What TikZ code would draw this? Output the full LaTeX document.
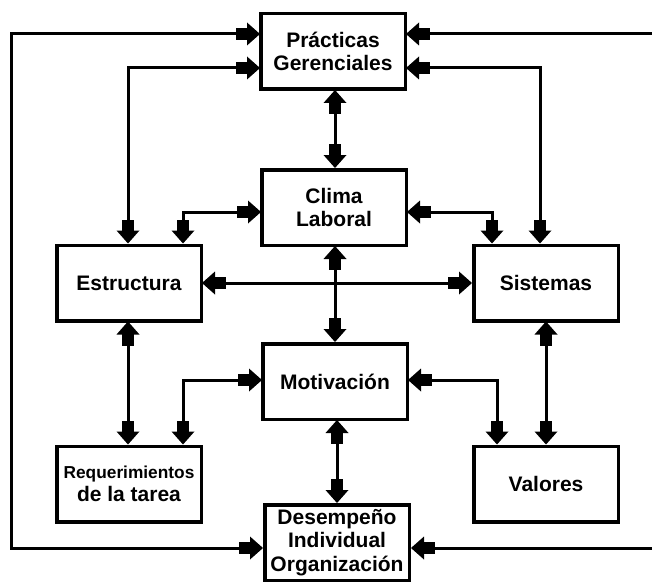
\documentclass[tikz,border=0pt]{standalone}
\usepackage{fontspec}
\setmainfont{Liberation Sans}
\usetikzlibrary{arrows.meta}
\begin{document}
\begin{tikzpicture}[x=1pt,y=-1pt,
  box/.style={draw, line width=3.5pt, minimum width=144.5pt, minimum height=75.5pt, inner sep=0pt, align=center,
    font=\fontsize{21}{23.5}\selectfont\bfseries},
  conn/.style={line width=3pt,
    {Triangle[width=23pt,length=13pt,line width=0pt,sep=-1pt] Rectangle[width=12pt,length=12pt,line width=0pt,sep=-1pt]}-{Rectangle[width=12pt,length=12pt,line width=0pt,sep=-1pt] Triangle[width=23pt,length=13pt,line width=0pt]}},
]
\path[use as bounding box, fill=white] (0,0) rectangle (652,583);
\clip (0,0) rectangle (652,583);

\node[box] (pg) at (333,51.5) {Prácticas\\Gerenciales};
\node[box] (cl) at (334,207.5) {Clima\\Laboral};
\node[box] (es) at (129,283) {Estructura};
\node[box] (si) at (546,283) {Sistemas};
\node[box] (mo) at (335,381.5) {Motivación};
\node[box] (rq) at (129,484) {{\fontsize{17.3}{24}\selectfont Requerimientos}\\de la tarea};
\node[box] (va) at (546,484) {Valores};
\node[box] (de) at (337,542.5) {\fontsize{21}{22.5}\selectfont Desempeño\\Individual\\Organización};

\coordinate (yA) at (0,34);
\coordinate (yB) at (0,68);
\coordinate (yC) at (0,212);
\coordinate (yD) at (0,380);
\coordinate (yE) at (0,548);
\coordinate (xL) at (11,0);
\coordinate (xE1) at (128,0);
\coordinate (xE2) at (183,0);
\coordinate (xS1) at (492,0);
\coordinate (xS2) at (540,0);
\coordinate (xS3) at (546,0);
\coordinate (xV) at (497,0);
\coordinate (xR) at (655,0);
\coordinate (xC) at (335,0);
\coordinate (xD) at (337,0);

\draw[conn] (pg.west |- yA) -| (xL |- yE) -- (de.west |- yE);
\draw[conn] (pg.east |- yA) -| (xR |- yE) -- (de.east |- yE);
\draw[conn] (pg.west |- yB) -| (es.north -| xE1);
\draw[conn] (pg.east |- yB) -| (si.north -| xS2);
\draw[conn] (cl.west |- yC) -| (es.north -| xE2);
\draw[conn] (cl.east |- yC) -| (si.north -| xS1);
\draw[conn] (es.east) -- (si.west);
\draw[conn] (pg.south -| xC) -- (cl.north -| xC);
\draw[conn] (cl.south -| xC) -- (mo.north -| xC);
\draw[conn] (mo.south -| xD) -- (de.north -| xD);
\draw[conn] (es.south -| xE1) -- (rq.north -| xE1);
\draw[conn] (si.south -| xS3) -- (va.north -| xS3);
\draw[conn] (mo.west |- yD) -| (rq.north -| xE2);
\draw[conn] (mo.east |- yD) -| (va.north -| xV);
\end{tikzpicture}
\end{document}
